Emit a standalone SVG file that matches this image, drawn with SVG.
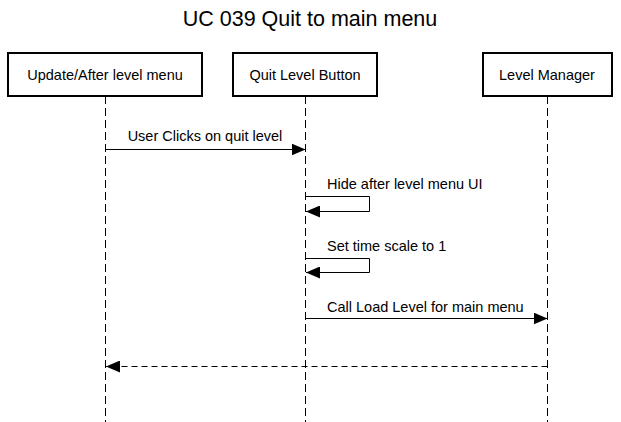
<svg xmlns="http://www.w3.org/2000/svg" width="621" height="422" viewBox="0 0 621 422">
<defs>
<style>
text{font-family:"Liberation Sans",Arial,sans-serif;fill:#000}
.box{fill:#fff;stroke:#000;stroke-width:2}
.life{stroke:#000;stroke-width:1;stroke-dasharray:8,4;fill:none}
.msg{stroke:#000;stroke-width:1;fill:none}
.ret{stroke:#000;stroke-width:1;fill:none;stroke-dasharray:6,4}
.lbl{font-size:14.5px}
.name{font-size:14.5px;text-anchor:middle}
</style>
<marker id="ah" markerWidth="14" markerHeight="12" refX="14" refY="6" orient="auto" markerUnits="userSpaceOnUse">
<path d="M0,0 L14,6 L0,12 Z" fill="#000"/>
</marker>
</defs>
<rect width="621" height="422" fill="#fff"/>
<text x="310" y="26" font-size="21.5" text-anchor="middle">UC 039 Quit to main menu</text>
<g id="lifelines">
<line class="life" x1="105.5" y1="96" x2="105.5" y2="422"/>
<line class="life" x1="305.5" y1="96" x2="305.5" y2="422"/>
<line class="life" x1="547.5" y1="96" x2="547.5" y2="422"/>
</g>
<g id="node-update">
<rect class="box" x="8" y="53" width="194" height="43"/>
<text class="name" x="105" y="80">Update/After level menu</text>
</g>
<g id="node-quit">
<rect class="box" x="233" y="53" width="144" height="43"/>
<text class="name" x="305" y="80">Quit Level Button</text>
</g>
<g id="node-manager">
<rect class="box" x="483" y="53" width="129" height="43"/>
<text class="name" x="547" y="80">Level Manager</text>
</g>
<g id="connectors">
<line class="msg" x1="105.5" y1="149.5" x2="305.5" y2="149.5" marker-end="url(#ah)"/>
<text class="lbl" x="205" y="141" text-anchor="middle">User Clicks on quit level</text>
<polyline class="msg" points="305.5,196.5 369.5,196.5 369.5,211.5 306,211.5" marker-end="url(#ah)"/>
<text class="lbl" x="327" y="189">Hide after level menu UI</text>
<polyline class="msg" points="305.5,258.5 369.5,258.5 369.5,272.5 306,272.5" marker-end="url(#ah)"/>
<text class="lbl" x="327" y="251">Set time scale to 1</text>
<line class="msg" x1="305.5" y1="318.5" x2="547.5" y2="318.5" marker-end="url(#ah)"/>
<text class="lbl" x="327" y="312">Call Load Level for main menu</text>
<line class="ret" x1="547.5" y1="366.5" x2="106" y2="366.5" marker-end="url(#ah)"/>
</g>
</svg>
